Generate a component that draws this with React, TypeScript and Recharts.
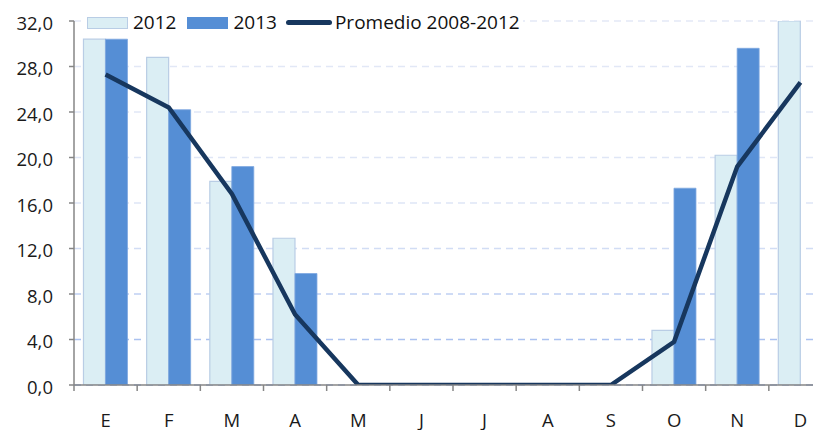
import { Bar, CartesianGrid, ComposedChart, Legend, Line, XAxis, YAxis } from 'recharts';

const months = ['E', 'F', 'M', 'A', 'M', 'J', 'J', 'A', 'S', 'O', 'N', 'D'];
const serie2012 = [30.4, 28.8, 17.9, 12.9, null, null, null, null, null, 4.8, 20.2, 32.0];
const serie2013 = [30.4, 24.2, 19.2, 9.8, null, null, null, null, null, 17.3, 29.6, null];
const promedio = [27.3, 24.4, 16.8, 6.2, 0, 0, 0, 0, 0, 3.8, 19.2, 26.6];
const yTicks = [0, 4, 8, 12, 16, 20, 24, 28, 32];

const data = months.map((m, i) => ({
  mes: m,
  y2012: serie2012[i],
  y2013: serie2013[i],
  prom: promedio[i],
}));

const AXIS = '#868686';
const FONT = "'Open Sans', sans-serif";

const MonthTick = (props: any) => {
  const { x, y, payload, index } = props;
  const half = payload && payload.offset ? payload.offset : 31.6;
  return (
    <g>
      <line x1={x - half} x2={x - half} y1={y} y2={y + 6} stroke={AXIS} strokeWidth={1.5} />
      {index === months.length - 1 && (
        <line x1={x + half} x2={x + half} y1={y} y2={y + 6} stroke={AXIS} strokeWidth={1.5} />
      )}
      <text x={x} y={y + 37} textAnchor="middle" dominantBaseline="middle" fontSize={18.5} fill="#1a1a1a">
        {payload.value}
      </text>
    </g>
  );
};

const LegendBox = () => (
  <div
    style={{
      display: 'flex',
      alignItems: 'center',
      background: '#fff',
      padding: '2px 3px',
      fontSize: 19,
      color: '#111',
      lineHeight: '19px',
      whiteSpace: 'nowrap',
    }}
  >
    <span style={{ width: 39, height: 10, background: '#dbeef4', border: '1px solid #b9cde5' }} />
    <span style={{ marginLeft: 5, marginRight: 11 }}>2012</span>
    <span style={{ width: 41, height: 12, background: '#558ed5' }} />
    <span style={{ marginLeft: 5, marginRight: 9 }}>2013</span>
    <span style={{ width: 46, height: 4.5, background: '#17375e', borderRadius: 3 }} />
    <span style={{ marginLeft: 3 }}>Promedio 2008-2012</span>
  </div>
);

export default function App() {
  return (
    <div style={{ width: 813, height: 422, overflow: 'hidden', fontFamily: FONT }}>
      <ComposedChart
        width={840}
        height={422}
        data={data}
        margin={{ top: 13, right: 16, bottom: 0, left: 0 }}
        barCategoryGap="15%"
        barGap={0}
        style={{ fontFamily: FONT }}
      >
        <defs>
          <linearGradient id="gridGrad" gradientUnits="userSpaceOnUse" x1="0" y1="13" x2="0" y2="377">
            <stop offset="0%" stopColor="#e3e8f6" />
            <stop offset="55%" stopColor="#dde5f6" />
            <stop offset="100%" stopColor="#98b4ee" />
          </linearGradient>
        </defs>
        <CartesianGrid vertical={false} stroke="url(#gridGrad)" strokeWidth={1.5} strokeDasharray="7 5" />
        <XAxis
          dataKey="mes"
          axisLine={{ stroke: AXIS, strokeWidth: 1.5 }}
          tickLine={false}
          tickSize={0}
          tickMargin={0}
          height={45}
          interval={0}
          tick={<MonthTick />}
        />
        <YAxis
          domain={[0, 32]}
          ticks={yTicks}
          allowDataOverflow
          width={66}
          tickSize={5}
          tickMargin={16}
          axisLine={{ stroke: AXIS, strokeWidth: 1.5 }}
          tickLine={{ stroke: AXIS, strokeWidth: 1.5 }}
          tick={{ fill: '#1a1a1a', fontSize: 18.5, dy: 2 }}
          tickFormatter={(v: number) => v.toFixed(1).replace('.', ',')}
        />
        <Legend
          layout="horizontal"
          verticalAlign="middle"
          align="center"
          content={<LegendBox />}
          wrapperStyle={{ top: 3, left: 76, width: 'auto', height: 'auto' }}
        />
        <Bar dataKey="y2012" name="2012" fill="#dbeef4" stroke="#b9cde5" strokeWidth={1.2} isAnimationActive={false} />
        <Bar dataKey="y2013" name="2013" fill="#558ed5" stroke="#7ea7e0" strokeWidth={0.8} isAnimationActive={false} />
        <Line
          dataKey="prom"
          name="Promedio 2008-2012"
          type="linear"
          stroke="#17375e"
          strokeWidth={4.5}
          dot={false}
          activeDot={false}
          isAnimationActive={false}
        />
      </ComposedChart>
    </div>
  );
}
